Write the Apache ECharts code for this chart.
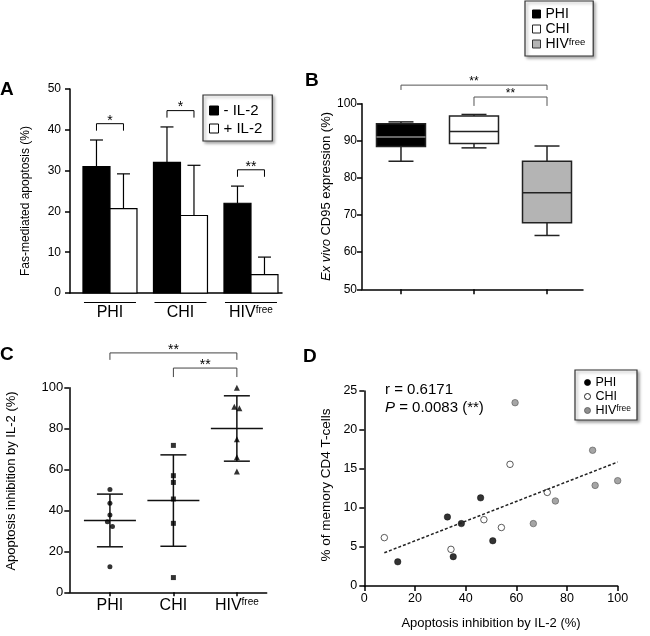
<!DOCTYPE html>
<html><head><meta charset="utf-8">
<script src="https://cdn.jsdelivr.net/npm/echarts@6/dist/echarts.min.js"></script>
<style>html,body{margin:0;padding:0;background:#fff}#c{width:650px;height:636px}</style>
</head><body><div id="c"></div>
<script>
// ---------------- DATA ----------------
var groups = ['PHI', 'CHI', 'HIVfree'];
// Panel A: Fas-mediated apoptosis (%) mean and SD
var apoMinusIL2 = [31, 32, 22];
var apoMinusIL2SD = [6.5, 8.7, 4.2];
var apoPlusIL2 = [20.7, 19, 4.5];
var apoPlusIL2SD = [8.5, 12.3, 4.3];
var sigA = ['*', '*', '**'];
// Panel B: ex vivo CD95 expression box stats [min, q1, median, q3, max]
var cd95PHI = [84.5, 88.5, 91.0, 94.6, 95.1];
var cd95CHI = [88.1, 89.3, 92.5, 96.7, 97.1];
var cd95HIV = [64.5, 67.9, 76.0, 84.5, 88.6];
var sigB = [[0, 2, '**'], [1, 2, '**']];
// Panel C: apoptosis inhibition by IL-2 (%)
var inhibPHI = [50.3, 43.5, 37.8, 34.5, 32.1, 12.5];
var inhibCHI = [71.8, 57.0, 53.7, 45.6, 33.7, 7.2];
var inhibHIV = [100, 90.7, 89.9, 74.8, 66.0, 59.0];
var sigC = [[0, 2, '**'], [1, 2, '**']];
// Panel D: [apoptosis inhibition (%), % memory CD4 T-cells]
var corrPHI = [[13.2, 3.1], [32.8, 8.85], [35.1, 3.76], [38.3, 8.0], [45.9, 11.3], [50.7, 5.8]];
var corrCHI = [[7.9, 6.2], [34.2, 4.7], [47.2, 8.5], [54.1, 7.5], [57.5, 15.6], [72.2, 12.0]];
var corrHIV = [[59.5, 23.5], [66.7, 8.0], [75.4, 10.9], [90.1, 17.4], [91.1, 12.9], [100, 13.5]];
var corrR = '0.6171';
var corrP = '0.0083';

// ---------------- HELPERS ----------------
var FONT = '"Liberation Sans", Arial, Helvetica, sans-serif';
function supRich(fs) { return { sup: { fontSize: fs, verticalAlign: 'top', fontFamily: FONT, color: '#000' } }; }
function catName(i) { var n = groups[i]; return n === 'HIVfree' ? 'HIV{sup|free}' : n; }
function mean(a) { return a.reduce(function (s, v) { return s + v; }, 0) / a.length; }
function sd(a) { var m = mean(a); return Math.sqrt(a.reduce(function (s, v) { return s + (v - m) * (v - m); }, 0) / (a.length - 1)); }
function jitter(vals, idx) {
  return vals.map(function (v, k) {
    var off = 0;
    vals.forEach(function (w, j) { if (j !== k && Math.abs(w - v) < 3) off = v > w ? -0.04 : 0.04; });
    return [idx + off, v];
  });
}
function bracketEl(x1, x2, yTop, yLeg, label, fs, gap, color) {
  return { type: 'group', children: [
    { type: 'polyline', shape: { points: [[x1, yLeg], [x1, yTop], [x2, yTop], [x2, yLeg]] }, style: { stroke: color, lineWidth: 1, fill: null } },
    { type: 'text', style: { text: label, x: (x1 + x2) / 2, y: yTop - gap, align: 'center', verticalAlign: 'middle', fontSize: fs, fontFamily: FONT, fill: '#000' } }
  ] };
}
function barRender(side) {
  return function (params, api) {
    var x = api.value(0), v = api.value(1), s = api.value(2);
    var base = api.coord([x, 0]), top = api.coord([x, v]), et = api.coord([x, v + s]);
    var bw = 27;
    var x0 = side < 0 ? base[0] - bw : base[0];
    var cx = x0 + bw / 2;
    return { type: 'group', children: [
      { type: 'rect', shape: { x: x0, y: top[1], width: bw, height: base[1] - top[1] }, style: { fill: api.visual('color'), stroke: '#000', lineWidth: 1.2 } },
      { type: 'line', shape: { x1: cx, y1: top[1], x2: cx, y2: et[1] }, style: { stroke: '#000', lineWidth: 1.2 } },
      { type: 'line', shape: { x1: cx - 6.5, y1: et[1], x2: cx + 6.5, y2: et[1] }, style: { stroke: '#000', lineWidth: 1.2 } }
    ] };
  };
}
function boxRender(fill, medColor) {
  return function (params, api) {
    var x = api.value(0);
    var p = [1, 2, 3, 4, 5].map(function (d) { return api.coord([x, api.value(d)]); });
    var cx = p[0][0], hw = 24.5, cw = 12.5;
    function st() { return { stroke: '#222', lineWidth: 1.5 }; }
    return { type: 'group', children: [
      { type: 'line', shape: { x1: cx, y1: p[3][1], x2: cx, y2: p[4][1] }, style: st() },
      { type: 'line', shape: { x1: cx, y1: p[1][1], x2: cx, y2: p[0][1] }, style: st() },
      { type: 'line', shape: { x1: cx - cw, y1: p[4][1], x2: cx + cw, y2: p[4][1] }, style: st() },
      { type: 'line', shape: { x1: cx - cw, y1: p[0][1], x2: cx + cw, y2: p[0][1] }, style: st() },
      { type: 'rect', shape: { x: cx - hw, y: p[3][1], width: 2 * hw, height: p[1][1] - p[3][1] }, style: { fill: fill, stroke: '#222', lineWidth: 1.5 } },
      { type: 'line', shape: { x1: cx - hw, y1: p[2][1], x2: cx + hw, y2: p[2][1] }, style: { stroke: medColor, lineWidth: 1.5 } }
    ] };
  };
}
function axisLineStyle() { return { show: true, onZero: false, lineStyle: { color: '#000', width: 1.5 } }; }
function tickStyle(len) { return { show: true, length: len, lineStyle: { color: '#000', width: 1.5 } }; }

// derived
var inhib = [inhibPHI, inhibCHI, inhibHIV];
var meanSD = inhib.map(function (a, i) { return [i, mean(a), sd(a)]; });
var allD = corrPHI.concat(corrCHI, corrHIV);
var mx = mean(allD.map(function (p) { return p[0]; })), my = mean(allD.map(function (p) { return p[1]; }));
var sxy = 0, sxx = 0;
allD.forEach(function (p) { sxy += (p[0] - mx) * (p[1] - my); sxx += (p[0] - mx) * (p[0] - mx); });
var slope = sxy / sxx, icpt = my - slope * mx;
var xsD = allD.map(function (p) { return p[0]; });
var xLo = Math.min.apply(null, xsD), xHi = Math.max.apply(null, xsD);
var regLine = [[xLo, icpt + slope * xLo], [xHi, icpt + slope * xHi]];

var chart = echarts.init(document.getElementById('c'));
var option = {
  animation: false,
  backgroundColor: '#fff',
  textStyle: { fontFamily: FONT, color: '#000' },
  grid: [
    { left: 70, top: 89, width: 212, height: 204 },
    { left: 362, top: 103.7, width: 221, height: 185.6 },
    { left: 69.3, top: 387.7, width: 197.4, height: 204.6 },
    { left: 364.3, top: 391, width: 253.4, height: 195 }
  ],
  xAxis: [
    { gridIndex: 0, type: 'value', min: -0.567, max: 2.44, axisLine: axisLineStyle(), axisTick: { show: false }, splitLine: { show: false },
      axisLabel: { customValues: [0, 1, 2], formatter: function (v) { return catName(Math.round(v)); }, fontSize: 16, margin: 12, color: '#000', fontFamily: FONT, rich: supRich(10) } },
    { gridIndex: 1, type: 'value', min: -0.534, max: 2.493, axisLine: axisLineStyle(), axisTick: Object.assign(tickStyle(5), { customValues: [0, 1, 2] }), splitLine: { show: false },
      axisLabel: { show: false } },
    { gridIndex: 2, type: 'value', min: -0.64, max: 2.47, axisLine: axisLineStyle(), axisTick: Object.assign(tickStyle(4), { customValues: [0, 1, 2] }), splitLine: { show: false },
      axisLabel: { customValues: [0, 1, 2], formatter: function (v) { return catName(Math.round(v)); }, fontSize: 16, margin: 5, color: '#000', fontFamily: FONT, rich: supRich(10) } },
    { gridIndex: 3, type: 'value', min: 0, max: 100, interval: 20, axisLine: axisLineStyle(), axisTick: tickStyle(5), splitLine: { show: false },
      axisLabel: { fontSize: 12.5, margin: 6, color: '#000', fontFamily: FONT },
      name: 'Apoptosis inhibition by IL-2 (%)', nameLocation: 'middle', nameGap: 31, nameTextStyle: { fontSize: 13, color: '#000', fontFamily: FONT } }
  ],
  yAxis: [
    { gridIndex: 0, type: 'value', min: 0, max: 50, interval: 10, axisLine: axisLineStyle(), axisTick: tickStyle(5), splitLine: { show: false },
      axisLabel: { fontSize: 12, margin: 9, color: '#000', fontFamily: FONT },
      name: 'Fas-mediated apoptosis (%)', nameLocation: 'middle', nameGap: 38, nameTextStyle: { fontSize: 12, color: '#000', fontFamily: FONT, padding: [0, 20, 0, 0] } },
    { gridIndex: 1, type: 'value', min: 50, max: 100, interval: 10, axisLine: axisLineStyle(), axisTick: tickStyle(5), splitLine: { show: false },
      axisLabel: { fontSize: 12, margin: 5, color: '#000', fontFamily: FONT },
      name: '{i|Ex vivo} CD95 expression (%)', nameLocation: 'middle', nameGap: 27, nameTextStyle: { fontSize: 13, color: '#000', fontFamily: FONT, rich: { i: { fontStyle: 'italic', fontSize: 13, fontFamily: FONT, color: '#000' } } } },
    { gridIndex: 2, type: 'value', min: 0, max: 100, interval: 20, axisLine: axisLineStyle(), axisTick: tickStyle(5), splitLine: { show: false },
      axisLabel: { fontSize: 13, margin: 6, color: '#000', fontFamily: FONT },
      name: 'Apoptosis inhibition by IL-2 (%)', nameLocation: 'middle', nameGap: 51, nameTextStyle: { fontSize: 13, color: '#000', fontFamily: FONT, padding: [0, 0, 0, 18] } },
    { gridIndex: 3, type: 'value', min: 0, max: 25, interval: 5, axisLine: axisLineStyle(), axisTick: tickStyle(5), splitLine: { show: false },
      axisLabel: { fontSize: 12.5, margin: 7, color: '#000', fontFamily: FONT },
      name: '% of memory CD4 T-cells', nameLocation: 'middle', nameGap: 31, nameTextStyle: { fontSize: 13.5, color: '#000', fontFamily: FONT, padding: [0, 0, 0, 7] } }
  ],
  legend: [
    { orient: 'vertical', left: 203, top: 95, selectedMode: false, itemWidth: 9, itemHeight: 9, itemGap: 3,
      padding: [8, 10, 5, 6], borderColor: '#333', borderWidth: 1.2, backgroundColor: '#fff',
      shadowColor: 'rgba(0,0,0,0.35)', shadowBlur: 3, shadowOffsetX: 2, shadowOffsetY: 2,
      textStyle: { fontSize: 15, color: '#000', fontFamily: FONT },
      data: [
        { name: '- IL-2', icon: 'rect', itemStyle: { color: '#000', borderColor: '#000', borderWidth: 1 } },
        { name: '+ IL-2', icon: 'rect', itemStyle: { color: '#fff', borderColor: '#000', borderWidth: 1 } }
      ] },
    { orient: 'vertical', left: 525, top: 1, selectedMode: false, itemWidth: 8, itemHeight: 8, itemGap: 1,
      padding: [6, 8, 5, 7], borderColor: '#333', borderWidth: 1.2, backgroundColor: '#fff',
      shadowColor: 'rgba(0,0,0,0.35)', shadowBlur: 3, shadowOffsetX: 2, shadowOffsetY: 2,
      textStyle: { fontSize: 14, color: '#000', fontFamily: FONT, rich: supRich(9.5) },
      formatter: function (n) { return n === 'HIVfree' ? 'HIV{sup|free}' : n; },
      data: [
        { name: 'PHI', icon: 'rect', itemStyle: { color: '#000', borderColor: '#000', borderWidth: 1 } },
        { name: 'CHI', icon: 'rect', itemStyle: { color: '#fff', borderColor: '#222', borderWidth: 1 } },
        { name: 'HIVfree', icon: 'rect', itemStyle: { color: '#b4b4b4', borderColor: '#333', borderWidth: 1 } }
      ] },
    { orient: 'vertical', left: 575, top: 370, selectedMode: false, itemWidth: 6, itemHeight: 6, itemGap: 1,
      padding: [6, 6, 3, 9], borderColor: '#333', borderWidth: 1.2, backgroundColor: '#fff',
      shadowColor: 'rgba(0,0,0,0.35)', shadowBlur: 3, shadowOffsetX: 2, shadowOffsetY: 2,
      textStyle: { fontSize: 12.5, color: '#000', fontFamily: FONT, rich: supRich(8.5) },
      formatter: function (n) { return n === 'HIVfree' ? 'HIV{sup|free}' : n; },
      data: [
        { name: 'PHI', icon: 'circle', itemStyle: { color: '#000', borderColor: '#000', borderWidth: 0.8 } },
        { name: 'CHI', icon: 'circle', itemStyle: { color: '#fff', borderColor: '#222', borderWidth: 1 } },
        { name: 'HIVfree', icon: 'circle', itemStyle: { color: '#8f8f8f', borderColor: '#555', borderWidth: 0.8 } }
      ] }
  ],
  series: [
    // Panel A
    { type: 'custom', name: '- IL-2', xAxisIndex: 0, yAxisIndex: 0, itemStyle: { color: '#000' }, encode: { x: 0, y: 1 },
      data: groups.map(function (g, i) { return [i, apoMinusIL2[i], apoMinusIL2SD[i]]; }), renderItem: barRender(-1) },
    { type: 'custom', name: '+ IL-2', xAxisIndex: 0, yAxisIndex: 0, itemStyle: { color: '#fff' }, encode: { x: 0, y: 1 },
      data: groups.map(function (g, i) { return [i, apoPlusIL2[i], apoPlusIL2SD[i]]; }), renderItem: barRender(1) },
    { type: 'custom', name: 'sigA', xAxisIndex: 0, yAxisIndex: 0, encode: { x: 0, y: 1 }, silent: true,
      data: groups.map(function (g, i) { return [i, Math.max(apoMinusIL2[i] + apoMinusIL2SD[i], apoPlusIL2[i] + apoPlusIL2SD[i]) + 4]; }),
      renderItem: function (params, api) {
        var c = api.coord([api.value(0), api.value(1)]);
        return bracketEl(c[0] - 13.5, c[0] + 13.5, c[1], c[1] + 7, sigA[params.dataIndex], 14, 3, '#000');
      } },
    { type: 'custom', name: 'underA', xAxisIndex: 0, yAxisIndex: 0, encode: { x: 0, y: 1 }, silent: true,
      data: groups.map(function (g, i) { return [i, 0]; }),
      renderItem: function (params, api) {
        var c = api.coord([api.value(0), 0]);
        return { type: 'line', shape: { x1: c[0] - 26, y1: c[1] + 9.5, x2: c[0] + 26, y2: c[1] + 9.5 }, style: { stroke: '#000', lineWidth: 1.2 } };
      } },
    // Panel B
    { type: 'custom', name: 'PHI', xAxisIndex: 1, yAxisIndex: 1, itemStyle: { color: '#000' }, encode: { x: 0, y: [1, 2, 3, 4, 5] },
      data: [[0].concat(cd95PHI)], renderItem: boxRender('#000', '#8a8a8a') },
    { type: 'custom', name: 'CHI', xAxisIndex: 1, yAxisIndex: 1, itemStyle: { color: '#fff' }, encode: { x: 0, y: [1, 2, 3, 4, 5] },
      data: [[1].concat(cd95CHI)], renderItem: boxRender('#fff', '#222') },
    { type: 'custom', name: 'HIVfree', xAxisIndex: 1, yAxisIndex: 1, itemStyle: { color: '#b4b4b4' }, encode: { x: 0, y: [1, 2, 3, 4, 5] },
      data: [[2].concat(cd95HIV)], renderItem: boxRender('#b4b4b4', '#222') },
    { type: 'custom', name: 'sigB', xAxisIndex: 1, yAxisIndex: 1, encode: { x: [0, 1], y: [2, 3] }, silent: true,
      data: sigB.map(function (s, k) { return k === 0 ? [s[0], s[1], 105, 103.7] : [s[0], s[1], 101.8, 99.4]; }),
      renderItem: function (params, api) {
        var a = api.coord([api.value(0), api.value(2)]), b = api.coord([api.value(1), api.value(3)]);
        return bracketEl(a[0], b[0], a[1], b[1], sigB[params.dataIndex][2], 12, 3, '#555');
      } },
    // Panel C
    { type: 'scatter', name: 'cPHI', xAxisIndex: 2, yAxisIndex: 2, symbol: 'circle', symbolSize: 5, itemStyle: { color: '#000' }, data: jitter(inhibPHI, 0) },
    { type: 'scatter', name: 'cCHI', xAxisIndex: 2, yAxisIndex: 2, symbol: 'rect', symbolSize: 5, itemStyle: { color: '#000' }, data: jitter(inhibCHI, 1) },
    { type: 'scatter', name: 'cHIV', xAxisIndex: 2, yAxisIndex: 2, symbol: 'triangle', symbolSize: 6, itemStyle: { color: '#000' }, data: jitter(inhibHIV, 2) },
    { type: 'custom', name: 'meanSD', xAxisIndex: 2, yAxisIndex: 2, encode: { x: 0, y: 1 }, silent: true, data: meanSD,
      renderItem: function (params, api) {
        var x = api.value(0), m = api.value(1), s = api.value(2);
        var pm = api.coord([x, m]), pt = api.coord([x, m + s]), pb = api.coord([x, m - s]);
        var cx = pm[0];
        function st() { return { stroke: '#111', lineWidth: 1.5 }; }
        return { type: 'group', children: [
          { type: 'line', shape: { x1: cx - 26, y1: pm[1], x2: cx + 26, y2: pm[1] }, style: st() },
          { type: 'line', shape: { x1: cx, y1: pt[1], x2: cx, y2: pb[1] }, style: st() },
          { type: 'line', shape: { x1: cx - 13, y1: pt[1], x2: cx + 13, y2: pt[1] }, style: st() },
          { type: 'line', shape: { x1: cx - 13, y1: pb[1], x2: cx + 13, y2: pb[1] }, style: st() }
        ] };
      } },
    { type: 'custom', name: 'sigC', xAxisIndex: 2, yAxisIndex: 2, encode: { x: [0, 1], y: [2, 3] }, silent: true,
      data: sigC.map(function (s, k) { return k === 0 ? [s[0], s[1], 117, 113.6] : [s[0], s[1], 109.6, 105.2]; }),
      renderItem: function (params, api) {
        var a = api.coord([api.value(0), api.value(2)]), b = api.coord([api.value(1), api.value(3)]);
        return bracketEl(a[0], b[0], a[1], b[1], sigC[params.dataIndex][2], 14, 3, '#444');
      } },
    // Panel D
    { type: 'scatter', name: 'PHI', xAxisIndex: 3, yAxisIndex: 3, symbolSize: 6.5, itemStyle: { color: '#000', borderColor: '#000', borderWidth: 0.5 }, data: corrPHI },
    { type: 'scatter', name: 'CHI', xAxisIndex: 3, yAxisIndex: 3, symbolSize: 6.5, itemStyle: { color: '#fff', borderColor: '#333', borderWidth: 1 }, data: corrCHI },
    { type: 'scatter', name: 'HIVfree', xAxisIndex: 3, yAxisIndex: 3, symbolSize: 6.5, itemStyle: { color: '#8f8f8f', borderColor: '#5a5a5a', borderWidth: 0.8 }, data: corrHIV },
    { type: 'line', name: 'fit', xAxisIndex: 3, yAxisIndex: 3, symbol: 'none', silent: true, lineStyle: { color: '#222', width: 1.5, type: [3, 2] }, data: regLine }
  ],
  graphic: [
    { type: 'text', left: 0, top: 80, style: { text: 'A', fontSize: 19, fontWeight: 'bold', fontFamily: FONT, fill: '#000' } },
    { type: 'text', left: 305, top: 71, style: { text: 'B', fontSize: 19, fontWeight: 'bold', fontFamily: FONT, fill: '#000' } },
    { type: 'text', left: 0, top: 345, style: { text: 'C', fontSize: 19, fontWeight: 'bold', fontFamily: FONT, fill: '#000' } },
    { type: 'text', left: 303, top: 347, style: { text: 'D', fontSize: 19, fontWeight: 'bold', fontFamily: FONT, fill: '#000' } },
    { type: 'text', left: 385, top: 381, style: { text: 'r = ' + corrR + '\n{i|P} = ' + corrP + ' (**)', fontSize: 15, lineHeight: 18, fontFamily: FONT, fill: '#000',
      rich: { i: { fontStyle: 'italic', fontSize: 15, lineHeight: 18, fontFamily: FONT, fill: '#000' } } } }
  ]
};
chart.setOption(option);
</script>
</body></html>
